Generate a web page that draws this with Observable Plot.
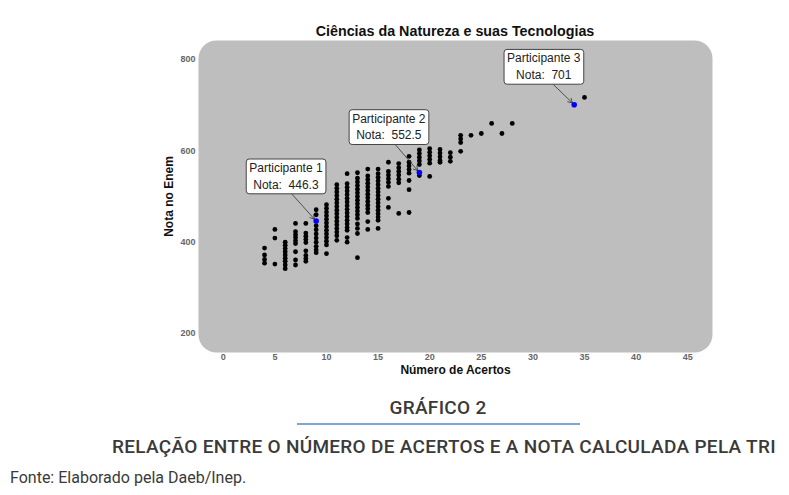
<!DOCTYPE html>
<html>
<head>
<meta charset="utf-8">
<script src="https://cdn.jsdelivr.net/npm/d3@7"></script>
<script src="https://cdn.jsdelivr.net/npm/@observablehq/plot@0.6"></script>
<style>
  html, body { margin: 0; padding: 0; background: #fff; }
  body { position: relative; width: 789px; height: 495px; overflow: hidden; font-family: "Liberation Sans", Arial, sans-serif; }
  #title { position: absolute; top: 22px; left: 198px; width: 514px; text-align: center; font: bold 14.3px/18px "Liberation Sans", Arial, sans-serif; color: #111; }
  #chart { position: absolute; top: 40px; left: 0; }
  #chart g[aria-label$="tick label"] text { font-weight: bold; fill: #666; font-size: 9px; }
  .cap { position: absolute; font-family: Roboto, "Open Sans", sans-serif; color: #3a3a3a; white-space: nowrap; }
  #g2 { top: 397px; left: 238px; width: 400px; text-align: center; font-size: 19px; line-height: 22px; font-weight: 500; letter-spacing: 0.3px; }
  #bar { position: absolute; top: 423px; left: 297px; width: 283px; height: 2px; background: #7fa6cf; }
  #sub { top: 436px; left: 44px; width: 800px; text-align: center; font-size: 19px; line-height: 22px; font-weight: 500; letter-spacing: 0.3px; }
  #fonte { top: 469px; left: 10px; font-size: 16px; line-height: 18px; font-weight: 400; }
</style>
</head>
<body>
<div id="title">Ciências da Natureza e suas Tecnologias</div>
<div id="chart"></div>
<div class="cap" id="g2">GRÁFICO 2</div>
<div id="bar"></div>
<div class="cap" id="sub">RELAÇÃO ENTRE O NÚMERO DE ACERTOS E A NOTA CALCULADA PELA TRI</div>
<div class="cap" id="fonte">Fonte: Elaborado pela Daeb/Inep.</div>
<script>
// ---- data ----
const acertos = [
  4,4,4,4,
  5,5,5,
  6,6,6,6,6,6,6,6,6,
  7,7,7,7,7,7,7,7,7,
  8,8,8,8,8,8,8,8,8,
  9,9,9,9,9,9,9,9,9,9,
  10,10,10,10,10,10,10,10,10,10,10,10,10,
  11,11,11,11,11,11,11,11,11,11,11,11,11,11,11,11,
  12,12,12,12,12,12,12,12,12,12,12,12,12,12,12,12,12,
  13,13,13,13,13,13,13,13,13,13,13,13,13,13,13,13,13,
  14,14,14,14,14,14,14,14,14,14,14,14,14,14,
  15,15,15,15,15,15,15,15,15,15,15,15,15,15,15,15,
  16,16,16,16,16,16,16,16,
  17,17,17,17,17,17,17,
  18,18,18,18,18,18,18,18,
  19,19,19,19,19,19,
  20,20,20,20,20,20,
  21,21,21,21,21,
  22,22,22,
  23,23,23,23,
  24, 25, 26, 27, 28, 35
];
const notas = [
  387,372,362,354,
  428,409,352,
  400,393,386,379,372,365,358,350,342,
  441,423,416,410,403,397,379,361,350,
  441,420,413,406,399,381,371,364,358,
  471,460,436,427,418,409,400,391,383,377,
  482,474,466,458,450,442,434,426,418,410,402,394,375,
  526,518,510,502,494,486,478,470,462,454,446,438,430,422,414,404,
  550,528,520,512,504,496,488,480,472,464,456,448,440,432,426,410,400,
  552,540,532,524,516,508,500,492,484,476,468,460,452,440,430,419,366,
  560,545,537,529,521,513,505,497,489,481,473,465,445,428,
  560,550,542,534,526,518,510,502,494,486,478,470,462,455,448,430,
  575,555,547,539,531,522,496,476,
  572,563,555,547,538,530,463,
  588,575,567,559,551,535,515,465,
  602,594,586,578,570,546,
  605,597,589,581,573,544,
  603,595,587,579,575,
  596,586,577,
  634,626,618,599,
  634, 638, 660, 638, 660, 717
];
const participantes = ["Participante 1", "Participante 2", "Participante 3"];
const partAcertos = [9, 19, 34];
const partNotas = [446.3, 552.5, 701];
const xTicks = [0, 5, 10, 15, 20, 25, 30, 35, 40, 45];
const yTicks = [200, 400, 600, 800];

// ---- annotation layout (label anchors in data units) ----
const labelPos = [ {x: 6.07, y: 547, ax: 6.5, ay: 509},
                   {x: 16.04, y: 655, ax: 16.5, ay: 618},
                   {x: 31.05, y: 787, ax: 31.9, ay: 747} ];

const pts = acertos.map((a, i) => ({a, n: notas[i]}));
const parts = participantes.map((p, i) => ({
  name: p, a: partAcertos[i], n: partNotas[i],
  lx: labelPos[i].x, ly: labelPos[i].y, ax: labelPos[i].ax, ay: labelPos[i].ay
}));

const chart = Plot.plot({
  width: 789, height: 345,
  marginLeft: 198, marginRight: 77, marginTop: 0, marginBottom: 33,
  style: {fontFamily: "'Liberation Sans', Arial, sans-serif", background: "transparent", overflow: "visible"},
  x: {domain: [-2.4, 47.4]},
  y: {domain: [158.4, 841.6]},
  marks: [
    Plot.frame({fill: "#bebebe", stroke: "none", rx: 18, ry: 18}),
    Plot.axisX({ticks: xTicks, tickSize: 0, tickPadding: 1, label: null}),
    Plot.axisY({ticks: yTicks, tickSize: 0, tickPadding: 3, label: null}),
    Plot.text(["Número de Acertos"], {frameAnchor: "bottom", dy: 21, fontSize: 12, fontWeight: "bold", fill: "#111"}),
    Plot.text(["Nota no Enem"], {frameAnchor: "left", dx: -29, rotate: -90, textAnchor: "middle", lineAnchor: "middle", fontSize: 12, fontWeight: "bold", fill: "#111"}),
    Plot.dot(pts, {x: "a", y: "n", r: 2.4, fill: "#000", stroke: "none"}),
    Plot.arrow(parts, {x1: "ax", y1: "ay", x2: "a", y2: "n", stroke: "#333", strokeWidth: 0.8, headLength: 9, insetEnd: 2.5}),
    Plot.dot(parts, {x: "a", y: "n", r: 2.8, fill: "#0000ff", stroke: "none"}),
    Plot.text(parts, {x: "lx", y: "ly", text: d => `${d.name}\nNota:  ${d.n}`, fontSize: 12, lineHeight: 1.4, fill: "#222"})
  ]
});
document.getElementById("chart").appendChild(chart);

// rounded panel fallback
chart.querySelectorAll('g[aria-label="frame"] rect, rect[aria-label="frame"]').forEach(r => { r.setAttribute("rx", 18); r.setAttribute("ry", 18); });

// white label boxes behind annotation texts
chart.querySelectorAll("text").forEach(t => {
  if (!t.textContent.startsWith("Participante")) return;
  const bb = t.getBBox();
  const r = document.createElementNS("http://www.w3.org/2000/svg", "rect");
  const padX = 3, padY = 2;
  r.setAttribute("x", bb.x - padX);
  r.setAttribute("y", bb.y - padY);
  r.setAttribute("width", bb.width + 2 * padX);
  r.setAttribute("height", bb.height + 2 * padY);
  r.setAttribute("rx", 3);
  r.setAttribute("fill", "#fff");
  r.setAttribute("stroke", "#444");
  r.setAttribute("stroke-width", 1);
  const tr = t.getAttribute("transform");
  if (tr) r.setAttribute("transform", tr);
  t.parentNode.insertBefore(r, t);
});
</script>
</body>
</html>
